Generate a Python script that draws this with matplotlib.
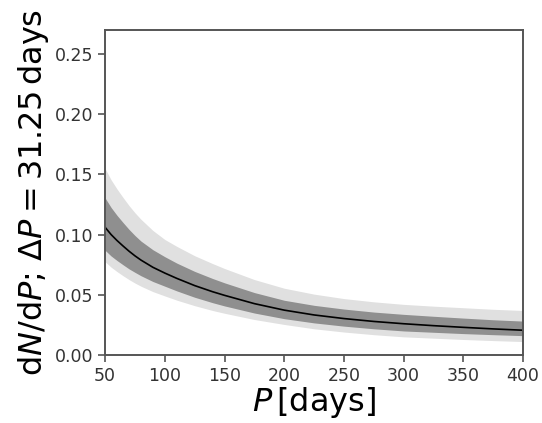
import numpy as np
import matplotlib
matplotlib.use("Agg")
import matplotlib.pyplot as plt

# period grid [days] and occurrence rate density with 68% / 95% bands
period = [50, 55, 60, 65, 70, 75, 80, 90, 100, 110, 125, 140, 150,
          175, 200, 225, 250, 275, 300, 325, 350, 375, 400]
median = [0.1060, 0.1000, 0.0950, 0.0905, 0.0862, 0.0823, 0.0788, 0.0728, 0.0680, 0.0636, 0.0576, 0.0525, 0.0495,
          0.0426, 0.0372, 0.0332, 0.0302, 0.0278, 0.0259, 0.0243, 0.0229, 0.0216, 0.0205]
inner_hi = [0.1304, 0.1225, 0.1159, 0.1100, 0.1043, 0.0992, 0.0946, 0.0874, 0.0816, 0.0763, 0.0694, 0.0635, 0.0599,
            0.0518, 0.0454, 0.0412, 0.0381, 0.0356, 0.0337, 0.0321, 0.0306, 0.0292, 0.0281]
inner_lo = [0.0869, 0.0822, 0.0784, 0.0749, 0.0715, 0.0686, 0.0658, 0.0610, 0.0571, 0.0532, 0.0479, 0.0434, 0.0407,
            0.0348, 0.0301, 0.0266, 0.0239, 0.0217, 0.0199, 0.0188, 0.0177, 0.0168, 0.0160]
outer_hi = [0.1548, 0.1455, 0.1378, 0.1308, 0.1241, 0.1181, 0.1127, 0.1034, 0.0959, 0.0902, 0.0824, 0.0759, 0.0718,
            0.0626, 0.0554, 0.0505, 0.0468, 0.0441, 0.0420, 0.0405, 0.0392, 0.0379, 0.0369]
outer_lo = [0.0774, 0.0729, 0.0692, 0.0658, 0.0626, 0.0597, 0.0571, 0.0526, 0.0490, 0.0455, 0.0409, 0.0369, 0.0346,
            0.0294, 0.0253, 0.0217, 0.0190, 0.0168, 0.0150, 0.0139, 0.0128, 0.0119, 0.0111]

fig = plt.figure(figsize=(5.42, 4.23), dpi=100)
ax = fig.add_axes([0.194, 0.161, 0.771, 0.768])

ax.fill_between(period, outer_lo, outer_hi, color="#e0e0e0", lw=0)
ax.fill_between(period, inner_lo, inner_hi, color="#8f8f8f", lw=0)
ax.plot(period, median, color="k", lw=1.2)

ax.set_xlim(50, 400)
ax.set_ylim(0, 0.27)
ax.set_xticks(np.arange(50, 401, 50))
ax.set_yticks(np.arange(0, 0.26, 0.05))
ax.set_yticklabels([f"{v:.2f}" for v in np.arange(0, 0.26, 0.05)])

for s in ax.spines.values():
    s.set_color("#555555")
    s.set_linewidth(1.4)
ax.tick_params(labelsize=12.5, color="#555555", width=1.2, length=5, labelcolor="#333333")

ax.set_xlabel(r"$P\,[\mathrm{days}]$", fontsize=23, labelpad=0)
ax.set_ylabel(r"$\mathrm{d}N/\mathrm{d}P$; $\Delta P = 31.25\,$days", fontsize=23, labelpad=3)

fig.savefig("out.png", dpi=100)
